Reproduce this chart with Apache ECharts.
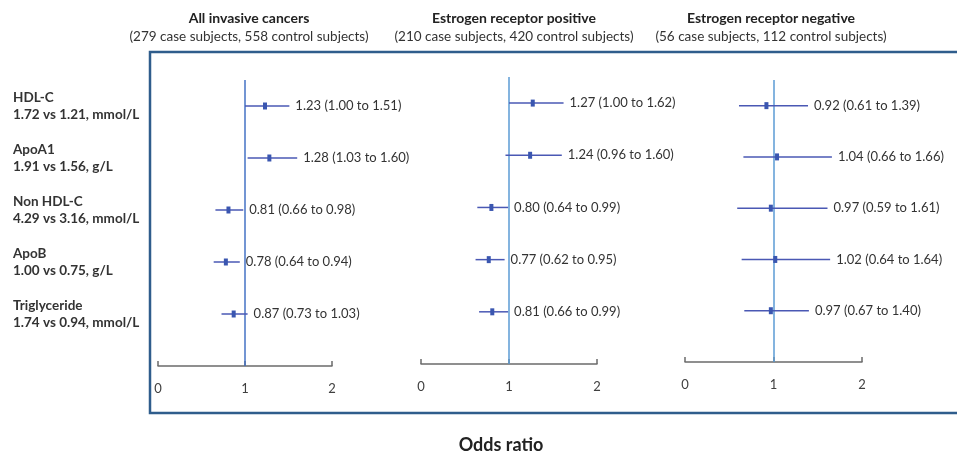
<!DOCTYPE html>
<html>
<head>
<meta charset="utf-8">
<script src="https://cdn.jsdelivr.net/npm/echarts@6/dist/echarts.min.js"></script>
<style>html,body{margin:0;padding:0;background:#fff;}#c{width:957px;height:457px;}</style>
</head>
<body>
<div id="c"></div>
<script>
var categories = ['HDL-C', 'ApoA1', 'Non HDL-C', 'ApoB', 'Triglyceride'];
var subLabels = ['1.72 vs 1.21, mmol/L', '1.91 vs 1.56, g/L', '4.29 vs 3.16, mmol/L', '1.00 vs 0.75, g/L', '1.74 vs 0.94, mmol/L'];
var panelTitles = ['All invasive cancers', 'Estrogen receptor positive', 'Estrogen receptor negative'];
var panelSubtitles = ['(279 case subjects, 558 control subjects)', '(210 case subjects, 420 control subjects)', '(56 case subjects, 112 control subjects)'];
var xTicks = [0, 1, 2];

var allOR = [1.23, 1.28, 0.81, 0.78, 0.87];
var allLo = [1.00, 1.03, 0.66, 0.64, 0.73];
var allHi = [1.51, 1.60, 0.98, 0.94, 1.03];

var posOR = [1.27, 1.24, 0.80, 0.77, 0.81];
var posLo = [1.00, 0.96, 0.64, 0.62, 0.66];
var posHi = [1.62, 1.60, 0.99, 0.95, 0.99];

var negOR = [0.92, 1.04, 0.97, 1.02, 0.97];
var negLo = [0.61, 0.66, 0.59, 0.64, 0.67];
var negHi = [1.39, 1.66, 1.61, 1.64, 1.40];

var FONT = 'Lato';
var panels = [
  {or: allOR, lo: allLo, hi: allHi, left: 158, width: 174, top: 80, height: 286, ref: '#4472c4', tc: 249},
  {or: posOR, lo: posLo, hi: posHi, left: 421, width: 176, top: 77, height: 287, ref: '#5b9bd5', tc: 514},
  {or: negOR, lo: negLo, hi: negHi, left: 685, width: 177, top: 80, height: 282, ref: '#5b9bd5', tc: 771}
];

var grids = [], xAxes = [], yAxes = [], series = [], titles = [];
panels.forEach(function (p, i) {
  grids.push({left: p.left, width: p.width, top: p.top, height: p.height});
  xAxes.push({
    type: 'value', gridIndex: i, min: 0, max: 2, interval: 1,
    splitLine: {show: false},
    axisLine: {show: true, lineStyle: {color: '#6b6b6b', width: 1.5}},
    axisTick: {show: true, inside: true, length: 5, lineStyle: {color: '#6b6b6b', width: 1.5}},
    axisLabel: {color: '#404040', fontSize: 13, fontFamily: FONT, margin: 16,
      formatter: function (v) { return xTicks.indexOf(v) >= 0 ? String(v) : ''; }}
  });
  yAxes.push({type: 'value', gridIndex: i, min: 0.5, max: 6, inverse: true, show: false});
  var data = p.or.map(function (v, k) { return [k + 1, v, p.lo[k], p.hi[k]]; });
  series.push({
    type: 'custom', xAxisIndex: i, yAxisIndex: i, data: data, z: 5,
    renderItem: function (params, api) {
      var row = api.value(0), o = api.value(1), lo = api.value(2), hi = api.value(3);
      var a = api.coord([lo, row]), b = api.coord([hi, row]), m = api.coord([o, row]);
      return {type: 'group', children: [
        {type: 'line', shape: {x1: a[0], y1: a[1], x2: b[0], y2: b[1]},
          style: {stroke: '#4a58b4', lineWidth: 1.5}},
        {type: 'rect', shape: {x: m[0] - 2, y: m[1] - 3.5, width: 4, height: 7},
          style: {fill: '#3a56b0'}},
        {type: 'text', x: b[0] + 6, y: b[1],
          style: {text: o.toFixed(2) + ' (' + lo.toFixed(2) + ' to ' + hi.toFixed(2) + ')',
            fill: '#333', font: '13px ' + FONT, verticalAlign: 'middle', align: 'left'}}
      ]};
    },
    markLine: {silent: true, symbol: 'none', label: {show: false},
      lineStyle: {color: p.ref, width: 1.5, type: 'solid'},
      data: [{xAxis: 1}]}
  });
  titles.push({text: panelTitles[i], left: p.tc, top: 11, textAlign: 'center', padding: 0,
    textStyle: {fontFamily: FONT, fontSize: 14, fontWeight: 'bold', color: '#222'}});
  titles.push({text: panelSubtitles[i], left: p.tc, top: 30, textAlign: 'center', padding: 0,
    textStyle: {fontFamily: FONT, fontSize: 13.5, fontWeight: 'normal', color: '#333'}});
});

// row labels on the left, positioned with panel 1's y scale
series.push({
  type: 'custom', xAxisIndex: 0, yAxisIndex: 0, z: 5,
  data: categories.map(function (c, k) { return [k + 1, 0]; }),
  renderItem: function (params, api) {
    var row = api.value(0);
    var pt = api.coord([0, row]);
    var idx = params.dataIndex;
    return {type: 'group', children: [
      {type: 'text', x: 13, y: pt[1] - 8.5,
        style: {text: categories[idx], fill: '#333', font: 'bold 13.5px ' + FONT, verticalAlign: 'middle'}},
      {type: 'text', x: 13, y: pt[1] + 8.5,
        style: {text: subLabels[idx], fill: '#333', font: 'bold 13.5px ' + FONT, verticalAlign: 'middle'}}
    ]};
  }
});

titles.push({text: 'Odds ratio', left: 501, top: 436, textAlign: 'center', padding: 0,
  textStyle: {fontFamily: FONT, fontSize: 18, fontWeight: 'bold', color: '#222'}});

var chart = echarts.init(document.getElementById('c'));
chart.setOption({
  animation: false,
  backgroundColor: '#fff',
  title: titles,
  grid: grids,
  xAxis: xAxes,
  yAxis: yAxes,
  series: series,
  graphic: [{type: 'rect', shape: {x: 150, y: 52, width: 830, height: 361},
    style: {fill: 'none', stroke: '#2f5d8c', lineWidth: 2.5}, z: 0, silent: true}]
});
</script>
</body>
</html>
